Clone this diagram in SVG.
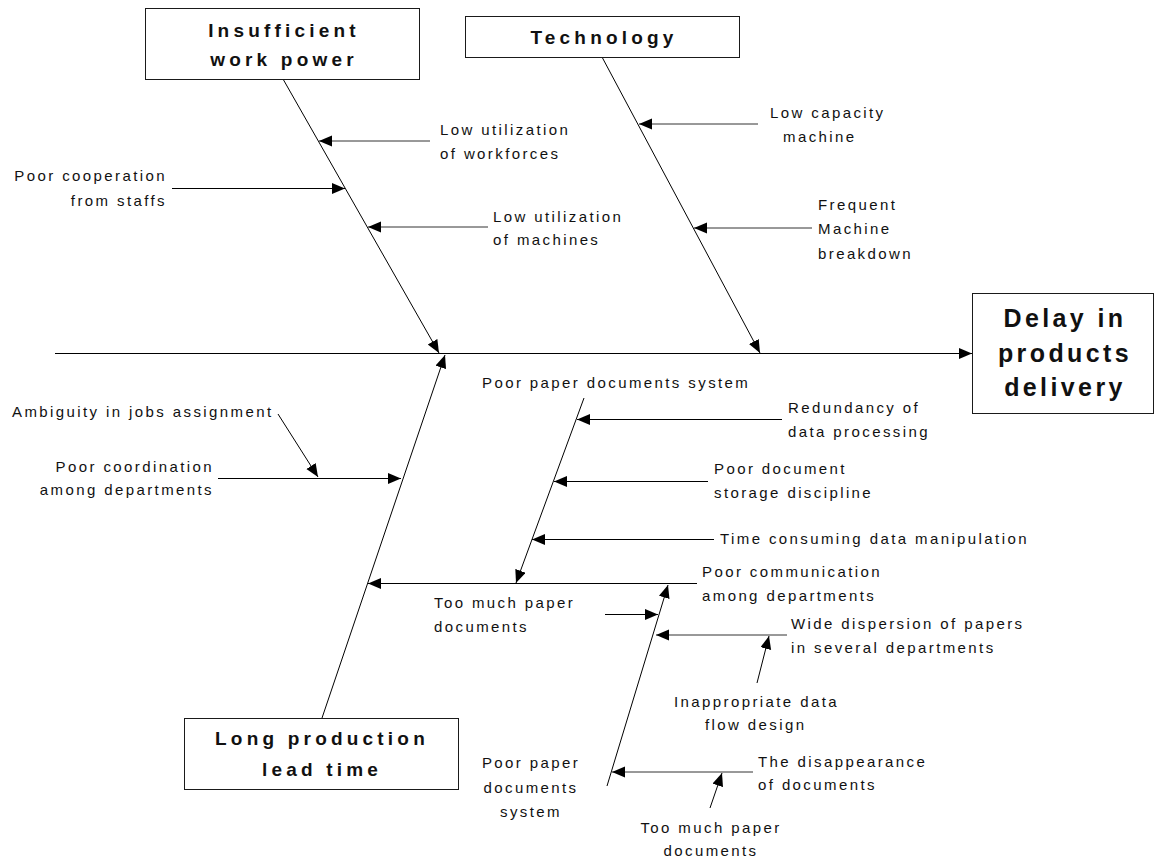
<svg xmlns="http://www.w3.org/2000/svg" width="1155" height="859" viewBox="0 0 1155 859">
  <style>
    .bg { fill: #ffffff; }
    .box { fill: #ffffff; stroke: #1a1a1a; stroke-width: 1; }
    .ln { stroke: #000000; stroke-width: 1; fill: none; }
    .lg { stroke: #333333; stroke-width: 1; fill: none; }
    .arr { marker-end: url(#head); }
    .t { font-family: "Liberation Sans", Arial, sans-serif; font-size: 15px; letter-spacing: 2.4px; fill: #111111; }
    .e { text-anchor: end; }
    .m { text-anchor: middle; }
    .h { font-family: "Liberation Sans", Arial, sans-serif; font-weight: bold; font-size: 19px; letter-spacing: 4.2px; fill: #111111; text-anchor: middle; }
    .hb { font-family: "Liberation Sans", Arial, sans-serif; font-weight: bold; font-size: 25px; letter-spacing: 3.4px; fill: #111111; text-anchor: middle; }
  </style>
  <defs>
    <marker id="head" markerUnits="userSpaceOnUse" markerWidth="14" markerHeight="12" refX="13" refY="5.5" orient="auto">
      <path d="M0,0 L13,5.5 L0,11 z" fill="#000000"/>
    </marker>
  </defs>

  <rect class="bg" x="0" y="0" width="1155" height="859"/>

  <!-- connectors: spine, main bones, and cause arrows -->
  <g id="connectors">
    <line class="ln arr" x1="55" y1="353.5" x2="972" y2="353.5"/>
    <line class="ln arr" x1="283" y1="79" x2="439" y2="353"/>
    <line class="ln arr" x1="602" y1="57" x2="760" y2="353"/>
    <line class="ln arr" x1="322" y1="718" x2="445" y2="355"/>

    <!-- Insufficient work power causes -->
    <line class="lg arr" x1="430" y1="141" x2="319" y2="141"/>
    <line class="ln arr" x1="172" y1="188.5" x2="345" y2="188.5"/>
    <line class="lg arr" x1="488" y1="227" x2="368" y2="227"/>

    <!-- Technology causes -->
    <line class="lg arr" x1="758" y1="124" x2="639" y2="124"/>
    <line class="lg arr" x1="812" y1="228" x2="694" y2="228"/>

    <!-- Long production lead time causes -->
    <line class="ln arr" x1="218" y1="478.5" x2="401" y2="478.5"/>
    <line class="ln arr" x1="278" y1="414" x2="318" y2="477"/>
    <line class="ln arr" x1="697" y1="583.5" x2="368" y2="583.5"/>

    <!-- upper paper documents branch -->
    <line class="ln arr" x1="584" y1="398" x2="516" y2="583"/>
    <line class="ln arr" x1="782" y1="419.5" x2="577" y2="419.5"/>
    <line class="ln arr" x1="708" y1="481.5" x2="554" y2="481.5"/>
    <line class="ln arr" x1="714" y1="539.5" x2="532" y2="539.5"/>

    <!-- lower paper documents branch -->
    <line class="ln arr" x1="607" y1="786" x2="668" y2="585"/>
    <line class="ln arr" x1="605" y1="614.5" x2="658" y2="614.5"/>
    <line class="lg arr" x1="787" y1="635" x2="656" y2="635"/>
    <line class="ln arr" x1="757" y1="683" x2="769" y2="636"/>
    <line class="lg arr" x1="753" y1="772" x2="612" y2="772"/>
    <line class="ln arr" x1="710" y1="808" x2="722" y2="773"/>
  </g>

  <!-- category and effect boxes -->
  <g id="node-workpower">
    <rect class="box" x="145.5" y="8.5" width="274" height="71"/>
    <text class="h" x="284" y="37">Insufficient</text>
    <text class="h" x="284" y="66">work power</text>
  </g>
  <g id="node-technology">
    <rect class="box" x="465.5" y="16.5" width="274" height="41"/>
    <text class="h" x="604" y="44">Technology</text>
  </g>
  <g id="node-leadtime">
    <rect class="box" x="184.5" y="718.5" width="274" height="71"/>
    <text class="h" x="322" y="745">Long production</text>
    <text class="h" x="322" y="776">lead time</text>
  </g>
  <g id="node-delay">
    <rect class="box" x="972.5" y="293.5" width="181" height="120"/>
    <text class="hb" x="1065" y="327">Delay in</text>
    <text class="hb" x="1065" y="362">products</text>
    <text class="hb" x="1065" y="396">delivery</text>
  </g>

  <!-- cause labels -->
  <g id="node-low-util-workforces">
    <text class="t" x="440" y="135">Low utilization</text>
    <text class="t" x="440" y="159">of workforces</text>
  </g>
  <g id="node-poor-cooperation">
    <text class="t e" x="167" y="181">Poor cooperation</text>
    <text class="t e" x="167" y="206">from staffs</text>
  </g>
  <g id="node-low-util-machines">
    <text class="t" x="493" y="222">Low utilization</text>
    <text class="t" x="493" y="245">of machines</text>
  </g>
  <g id="node-low-capacity">
    <text class="t" x="770" y="118">Low capacity</text>
    <text class="t" x="783" y="142">machine</text>
  </g>
  <g id="node-breakdown">
    <text class="t" x="818" y="210">Frequent</text>
    <text class="t" x="818" y="234">Machine</text>
    <text class="t" x="818" y="259">breakdown</text>
  </g>
  <g id="node-ambiguity">
    <text class="t" x="12" y="417">Ambiguity in jobs assignment</text>
  </g>
  <g id="node-poor-coordination">
    <text class="t e" x="214" y="472">Poor coordination</text>
    <text class="t e" x="214" y="495">among departments</text>
  </g>
  <g id="node-paper-system-upper">
    <text class="t" x="482" y="388">Poor paper documents system</text>
  </g>
  <g id="node-redundancy">
    <text class="t" x="788" y="413">Redundancy of</text>
    <text class="t" x="788" y="437">data processing</text>
  </g>
  <g id="node-storage">
    <text class="t" x="714" y="474">Poor document</text>
    <text class="t" x="714" y="498">storage discipline</text>
  </g>
  <g id="node-time-consuming">
    <text class="t" x="720" y="544">Time consuming data manipulation</text>
  </g>
  <g id="node-poor-communication">
    <text class="t" x="702" y="577">Poor communication</text>
    <text class="t" x="702" y="601">among departments</text>
  </g>
  <g id="node-too-much-paper-upper">
    <text class="t" x="434" y="608">Too much paper</text>
    <text class="t" x="434" y="632">documents</text>
  </g>
  <g id="node-wide-dispersion">
    <text class="t" x="791" y="629">Wide dispersion of papers</text>
    <text class="t" x="791" y="653">in several departments</text>
  </g>
  <g id="node-data-flow">
    <text class="t" x="674" y="707">Inappropriate data</text>
    <text class="t" x="705" y="730">flow design</text>
  </g>
  <g id="node-paper-system-lower">
    <text class="t m" x="531" y="768">Poor paper</text>
    <text class="t m" x="531" y="793">documents</text>
    <text class="t m" x="531" y="817">system</text>
  </g>
  <g id="node-disappearance">
    <text class="t" x="758" y="767">The disappearance</text>
    <text class="t" x="758" y="790">of documents</text>
  </g>
  <g id="node-too-much-paper-lower">
    <text class="t m" x="711" y="833">Too much paper</text>
    <text class="t m" x="711" y="856">documents</text>
  </g>
</svg>
